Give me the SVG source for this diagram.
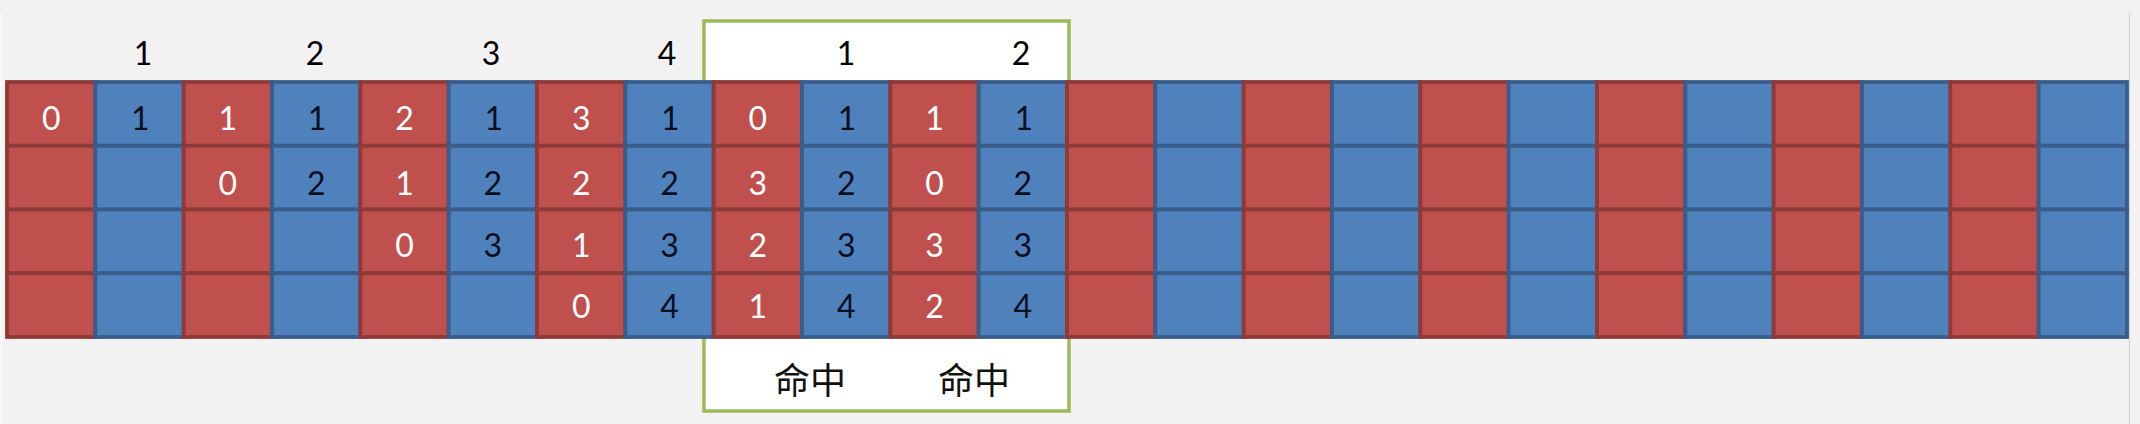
<svg xmlns="http://www.w3.org/2000/svg" width="2140" height="424" viewBox="0 0 2140 424">
<style>
.r{fill:#C0504D;stroke:#8E3A38;stroke-width:3.8}
.b{fill:#4F81BD;stroke:#385D8A;stroke-width:3.8}
.tw{font-family:Lato,"Liberation Sans","DejaVu Sans",sans-serif;font-size:32px;fill:#FFFFFF;text-anchor:middle}
.tk{font-family:Lato,"Liberation Sans","DejaVu Sans",sans-serif;font-size:32px;fill:#0A0F1E;text-anchor:middle}
.hd{font-family:Lato,"Liberation Sans","DejaVu Sans",sans-serif;font-size:32px;fill:#000000;text-anchor:middle}
.cj{font-family:"Liberation Serif","Noto Sans CJK SC",serif;font-size:36px;fill:#111111;text-anchor:middle}
</style>
<defs>
<g id="rc"><rect class="r" x="0" y="82" width="88.33" height="63.75"/><rect class="r" x="0" y="145.75" width="88.33" height="63.75"/><rect class="r" x="0" y="209.5" width="88.33" height="63.75"/><rect class="r" x="0" y="273.25" width="88.33" height="63.75"/></g>
<g id="bc"><rect class="b" x="0" y="82" width="88.33" height="63.75"/><rect class="b" x="0" y="145.75" width="88.33" height="63.75"/><rect class="b" x="0" y="209.5" width="88.33" height="63.75"/><rect class="b" x="0" y="273.25" width="88.33" height="63.75"/></g>
</defs>
<rect x="0" y="0" width="2140" height="424" fill="#F2F2F2"/>
<line x1="2129.5" y1="13" x2="2129.5" y2="424" stroke="#D2D2D2" stroke-width="1.2"/>
<line x1="1.5" y1="13" x2="1.5" y2="424" stroke="#FAFAFA" stroke-width="2"/>
<g id="hitbox"><rect x="704" y="21" width="365" height="390" fill="#FFFFFF" stroke="#9BBB59" stroke-width="3.5"/></g>
<g id="connectors"></g>
<g id="headers">
<text class="hd" x="143" y="65">1</text>
<text class="hd" x="315" y="65">2</text>
<text class="hd" x="491" y="65">3</text>
<text class="hd" x="667" y="65">4</text>
<text class="hd" x="846" y="65">1</text>
<text class="hd" x="1021" y="65">2</text>
</g>
<g id="col0" transform="translate(7,0)"><use href="#rc"/><text class="tw" x="44.2" y="130">0</text></g>
<g id="col1" transform="translate(95.33,0)"><use href="#bc"/><text class="tk" x="45" y="130">1</text></g>
<g id="col2" transform="translate(183.67,0)"><use href="#rc"/><text class="tw" x="44.2" y="130">1</text><text class="tw" x="44.2" y="195">0</text></g>
<g id="col3" transform="translate(272,0)"><use href="#bc"/><text class="tk" x="45" y="130">1</text><text class="tk" x="44.2" y="195">2</text></g>
<g id="col4" transform="translate(360.33,0)"><use href="#rc"/><text class="tw" x="44.2" y="130">2</text><text class="tw" x="44.2" y="195">1</text><text class="tw" x="44.2" y="257">0</text></g>
<g id="col5" transform="translate(448.67,0)"><use href="#bc"/><text class="tk" x="45" y="130">1</text><text class="tk" x="44.2" y="195">2</text><text class="tk" x="44.2" y="257">3</text></g>
<g id="col6" transform="translate(537,0)"><use href="#rc"/><text class="tw" x="44.2" y="130">3</text><text class="tw" x="44.2" y="195">2</text><text class="tw" x="44.2" y="257">1</text><text class="tw" x="44.2" y="318">0</text></g>
<g id="col7" transform="translate(625.33,0)"><use href="#bc"/><text class="tk" x="45" y="130">1</text><text class="tk" x="44.2" y="195">2</text><text class="tk" x="44.2" y="257">3</text><text class="tk" x="44.2" y="318">4</text></g>
<g id="col8" transform="translate(713.67,0)"><use href="#rc"/><text class="tw" x="44.2" y="130">0</text><text class="tw" x="44.2" y="195">3</text><text class="tw" x="44.2" y="257">2</text><text class="tw" x="44.2" y="318">1</text></g>
<g id="col9" transform="translate(802,0)"><use href="#bc"/><text class="tk" x="45" y="130">1</text><text class="tk" x="44.2" y="195">2</text><text class="tk" x="44.2" y="257">3</text><text class="tk" x="44.2" y="318">4</text></g>
<g id="col10" transform="translate(890.33,0)"><use href="#rc"/><text class="tw" x="44.2" y="130">1</text><text class="tw" x="44.2" y="195">0</text><text class="tw" x="44.2" y="257">3</text><text class="tw" x="44.2" y="318">2</text></g>
<g id="col11" transform="translate(978.67,0)"><use href="#bc"/><text class="tk" x="45" y="130">1</text><text class="tk" x="44.2" y="195">2</text><text class="tk" x="44.2" y="257">3</text><text class="tk" x="44.2" y="318">4</text></g>
<g id="col12" transform="translate(1067,0)"><use href="#rc"/></g>
<g id="col13" transform="translate(1155.33,0)"><use href="#bc"/></g>
<g id="col14" transform="translate(1243.67,0)"><use href="#rc"/></g>
<g id="col15" transform="translate(1332,0)"><use href="#bc"/></g>
<g id="col16" transform="translate(1420.33,0)"><use href="#rc"/></g>
<g id="col17" transform="translate(1508.67,0)"><use href="#bc"/></g>
<g id="col18" transform="translate(1597,0)"><use href="#rc"/></g>
<g id="col19" transform="translate(1685.33,0)"><use href="#bc"/></g>
<g id="col20" transform="translate(1773.67,0)"><use href="#rc"/></g>
<g id="col21" transform="translate(1862,0)"><use href="#bc"/></g>
<g id="col22" transform="translate(1950.33,0)"><use href="#rc"/></g>
<g id="col23" transform="translate(2038.67,0)"><use href="#bc"/></g>
<g id="labels">
<text class="cj" x="810" y="394">命中</text>
<text class="cj" x="974" y="394">命中</text>
</g>
</svg>
